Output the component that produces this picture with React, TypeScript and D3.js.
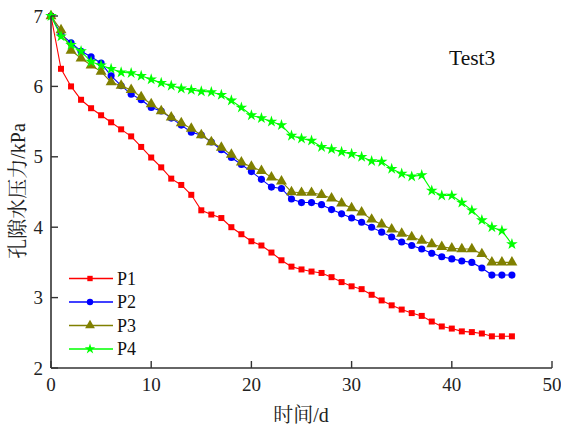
import * as d3 from "d3";
import React from "react";

const days = d3.range(0, 47);

const p1 = [7, 6.25, 6.0, 5.81, 5.69, 5.59, 5.49, 5.39, 5.29, 5.14, 4.99, 4.85, 4.69, 4.6, 4.46, 4.24, 4.18, 4.13, 4.0, 3.9, 3.8, 3.74, 3.64, 3.53, 3.44, 3.4, 3.37, 3.35, 3.29, 3.22, 3.16, 3.12, 3.04, 2.96, 2.89, 2.83, 2.78, 2.74, 2.66, 2.59, 2.56, 2.52, 2.51, 2.49, 2.45, 2.45, 2.45];
const p2 = [7, 6.74, 6.62, 6.5, 6.42, 6.33, 6.15, 6.01, 5.89, 5.81, 5.7, 5.65, 5.55, 5.45, 5.35, 5.31, 5.21, 5.1, 4.99, 4.89, 4.79, 4.68, 4.57, 4.55, 4.4, 4.35, 4.35, 4.32, 4.25, 4.19, 4.13, 4.07, 4.0, 3.93, 3.86, 3.79, 3.74, 3.69, 3.63, 3.58, 3.55, 3.52, 3.5, 3.42, 3.32, 3.32, 3.32];
const p3 = [7, 6.8, 6.51, 6.4, 6.3, 6.21, 6.06, 6.01, 5.95, 5.85, 5.75, 5.65, 5.56, 5.48, 5.4, 5.31, 5.21, 5.13, 5.03, 4.92, 4.86, 4.8, 4.71, 4.65, 4.5, 4.49, 4.49, 4.46, 4.41, 4.34, 4.27, 4.21, 4.11, 4.04, 3.97, 3.91, 3.86, 3.81, 3.76, 3.72, 3.7, 3.69, 3.69, 3.62, 3.5, 3.5, 3.5];
const p4 = [7, 6.71, 6.59, 6.5, 6.35, 6.3, 6.25, 6.2, 6.19, 6.15, 6.1, 6.05, 6.01, 5.97, 5.95, 5.93, 5.92, 5.88, 5.8, 5.7, 5.59, 5.55, 5.5, 5.45, 5.3, 5.26, 5.23, 5.14, 5.11, 5.07, 5.04, 5.0, 4.94, 4.93, 4.83, 4.76, 4.72, 4.74, 4.52, 4.45, 4.45, 4.35, 4.24, 4.1, 4.0, 3.95, 3.76];

const seriesNames = ["P1", "P2", "P3", "P4"];
const seriesValues = [p1, p2, p3, p4];
const colors = ["#ff0000", "#0000ff", "#808000", "#00ff00"];
const symbols = [d3.symbolSquare, d3.symbolCircle, d3.symbolTriangle, d3.symbolStar];
const symbolSizes = [36, 40, 52, 42];

const xTicks = [0, 10, 20, 30, 40, 50];
const yTicks = [2, 3, 4, 5, 6, 7];

const W = 561;
const H = 427;
const left = 51;
const right = 552;
const top = 16;
const bottom = 368;
const latinFont = { fontFamily: '"Liberation Serif"' };
const cjkFont = { fontFamily: '"Noto Serif CJK SC"' };

export default function App() {
  const x = d3.scaleLinear().domain([0, 50]).range([left, right]);
  const y = d3.scaleLinear().domain([2, 7]).range([bottom, top]);
  const line = d3
    .line<number>()
    .x((_, i) => x(days[i]))
    .y((d) => y(d));

  return (
    <svg
      width={W}
      height={H}
      style={{ position: "absolute", left: 0, top: 0, background: "#fff" }}
    >
      {/* series */}
      {seriesValues.map((vals, s) => {
        const sym = d3.symbol().type(symbols[s]).size(symbolSizes[s]);
        return (
          <g key={s}>
            <path d={line(vals) || ""} fill="none" stroke={colors[s]} strokeWidth={1.1} />
            {vals.map((v, i) => (
              <path
                key={i}
                d={sym() || ""}
                transform={`translate(${x(days[i])},${y(v)})`}
                fill={colors[s]}
              />
            ))}
          </g>
        );
      })}

      {/* axes */}
      <line x1={left} x2={left} y1={top} y2={bottom} stroke="#333" strokeWidth={1.6} />
      <line x1={left} x2={right} y1={bottom} y2={bottom} stroke="#333" strokeWidth={1.6} />
      {xTicks.map((t) => (
        <g key={t}>
          <line x1={x(t)} x2={x(t)} y1={bottom} y2={bottom - 7} stroke="#333" strokeWidth={1.4} />
          <text x={x(t)} y={391} textAnchor="middle" style={latinFont} fontSize={19} fill="#222">
            {t}
          </text>
        </g>
      ))}
      {yTicks.map((t) => (
        <g key={t}>
          <line x1={left} x2={left + 7} y1={y(t)} y2={y(t)} stroke="#333" strokeWidth={1.4} />
          <text x={43} y={y(t)} dy="0.35em" textAnchor="end" style={latinFont} fontSize={19} fill="#222">
            {t}
          </text>
        </g>
      ))}

      {/* axis titles */}
      <text x={301} y={422} textAnchor="middle" fontSize={20} fill="#222">
        <tspan style={cjkFont}>时间</tspan>
        <tspan style={latinFont}>/d</tspan>
      </text>
      <text transform="translate(25,191) rotate(-90)" textAnchor="middle" fontSize={20} fill="#222">
        <tspan style={cjkFont}>孔隙水压力</tspan>
        <tspan style={latinFont}>/kPa</tspan>
      </text>

      <text x={449} y={65} style={latinFont} fontSize={21.5} fill="#111">
        Test3
      </text>

      {/* legend */}
      {seriesNames.map((name, s) => {
        const ly = 278.5 + s * 23.5;
        const sym = d3.symbol().type(symbols[s]).size(symbolSizes[s] * 0.8);
        return (
          <g key={name}>
            <line x1={69} x2={113} y1={ly} y2={ly} stroke={colors[s]} strokeWidth={1.4} />
            <path d={sym() || ""} transform={`translate(90,${ly})`} fill={colors[s]} />
            <text x={117} y={ly} dy="0.35em" style={latinFont} fontSize={18} fill="#111">
              {name}
            </text>
          </g>
        );
      })}
    </svg>
  );
}
